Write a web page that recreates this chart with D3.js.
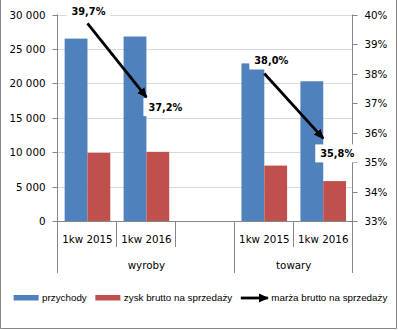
<!DOCTYPE html>
<html>
<head>
<meta charset="utf-8">
<script src="https://cdn.jsdelivr.net/npm/d3@7"></script>
<style>
  html, body { margin: 0; padding: 0; background: #fff; }
  svg { display: block; }
  .tick text { font-family: 'DejaVu Sans', sans-serif; font-size: 10.3px; fill: #000; }
  .cat-label { font-family: 'DejaVu Sans', sans-serif; font-size: 10.3px; fill: #000; }
  .leg text { font-family: 'Liberation Sans', Arial, sans-serif; font-size: 9.8px; fill: #000; }
  .val-label { font-family: 'DejaVu Sans', sans-serif; font-size: 9.8px; font-weight: bold; fill: #000; }
</style>
</head>
<body>
<svg id="chart" width="398" height="330"></svg>
<script>
// data
const groups = ['wyroby', 'wyroby', 'wyroby', 'towary', 'towary'];
const periods = ['1kw 2015', '1kw 2016', '', '1kw 2015', '1kw 2016'];
const przychody = [26500, 26800, null, 22900, 20300];
const zysk = [9900, 10050, null, 8050, 5800];
const marza = [39.7, 37.2, null, 38.0, 35.8];
const leftTicks = [0, 5000, 10000, 15000, 20000, 25000, 30000];
const rightTicks = [33, 34, 35, 36, 37, 38, 39, 40];
const seriesNames = ['przychody', 'zysk brutto na sprzedaży', 'marża brutto na sprzedaży'];

// label placement (offset of label centre from its point), hand tuned
const labelOffsets = [[1, -12], [19, 10], [7, -13], [14, 15]];

const c = {
  width: 398,
  height: 330,
  left: 58,
  right: 352.7,
  top: 14.5,
  bottom: 221,
  colors: ['#4F81BD', '#C0504D', '#000'],
  grid: '#D9D9D9',
  axis: '#868686',
};

const svg = d3.select('#chart');

// outer frame (top edge is cut off)
svg.append('path')
  .attr('d', `M0.5,-1V${c.height - 1.5}H${c.width - 1.5}V-1`)
  .attr('fill', 'none')
  .attr('stroke', c.axis)
  .attr('stroke-width', 1);

const idx = d3.range(periods.length);
const x0 = d3.scaleBand(idx, [c.left, c.right]);
const bw = x0.bandwidth();
const x1 = d3.scaleBand([0, 1], [bw * 0.113, bw * 0.887]);

const yL = d3.scaleLinear([0, 30000], [c.bottom, c.top]);
const yR = d3.scaleLinear([33, 40], [c.bottom, c.top]);

const fmtNum = (d) => d3.format(',')(d).replace(/,/g, ' ');
const fmtPct = (d) => d3.format('.1f')(d).replace('.', ',') + '%';

// gridlines
svg.append('g')
  .selectAll('line')
  .data(leftTicks.slice(1))
  .join('line')
  .attr('x1', c.left)
  .attr('x2', c.right)
  .attr('y1', (d) => Math.round(yL(d)) + 0.5)
  .attr('y2', (d) => Math.round(yL(d)) + 0.5)
  .attr('stroke', c.grid);

// bars
const barData = [];
idx.forEach((i) => {
  [przychody, zysk].forEach((s, k) => {
    if (s[i] != null) barData.push({ i, k, v: s[i] });
  });
});

svg.append('g')
  .selectAll('rect')
  .data(barData)
  .join('rect')
  .attr('x', (d) => x0(d.i) + x1(d.k))
  .attr('width', x1.bandwidth())
  .attr('y', (d) => yL(d.v))
  .attr('height', (d) => yL(0) - yL(d.v))
  .attr('fill', (d) => c.colors[d.k]);

// left axis
const axL = svg.append('g')
  .attr('transform', `translate(${c.left - 0.5},0)`)
  .call(d3.axisLeft(yL).tickValues(leftTicks).tickFormat(fmtNum).tickSize(5).tickPadding(7).tickSizeOuter(0));
axL.select('.domain').remove();
axL.selectAll('.tick line').attr('stroke', c.axis);
axL.selectAll('.tick').attr('transform', (d) => `translate(0,${Math.round(yL(d)) + 0.5})`);
axL.append('line')
  .attr('x1', 0).attr('x2', 0)
  .attr('y1', c.top).attr('y2', c.bottom)
  .attr('stroke', c.axis);

// right axis
const axR = svg.append('g')
  .attr('transform', `translate(${Math.round(c.right) - 0.5},0)`)
  .call(d3.axisRight(yR).tickValues(rightTicks).tickFormat((d) => d + '%').tickSize(5).tickPadding(7).tickSizeOuter(0));
axR.select('.domain').remove();
axR.selectAll('.tick line').attr('stroke', c.axis);
axR.selectAll('.tick').attr('transform', (d) => `translate(0,${Math.round(yR(d)) + 0.5})`);
axR.append('line')
  .attr('x1', 0).attr('x2', 0)
  .attr('y1', c.top).attr('y2', c.bottom)
  .attr('stroke', c.axis);

// category axis
const base = Math.round(yL(0)) + 0.5;
svg.append('line')
  .attr('x1', c.left - 5).attr('x2', c.right)
  .attr('y1', base).attr('y2', base)
  .attr('stroke', c.axis);

const bounds = idx.map((i) => x0(i)).concat([c.right]);
svg.append('g')
  .selectAll('line')
  .data(bounds)
  .join('line')
  .attr('x1', (d) => Math.round(d) - 0.5)
  .attr('x2', (d) => Math.round(d) - 0.5)
  .attr('y1', base)
  .attr('y2', (d, j) => (j === 0 || j === bounds.length - 1 || groups[j] !== groups[j - 1] ? 273 : 247))
  .attr('stroke', c.axis);

svg.append('g')
  .selectAll('text')
  .data(idx.filter((i) => periods[i]))
  .join('text')
  .classed('cat-label', true)
  .attr('x', (i) => x0(i) + bw / 2)
  .attr('y', 243)
  .attr('text-anchor', 'middle')
  .text((i) => periods[i]);

const groupSpans = d3.groups(idx, (i) => groups[i]);
svg.append('g')
  .selectAll('text')
  .data(groupSpans)
  .join('text')
  .classed('cat-label', true)
  .attr('x', ([, is]) => (x0(is[0]) + x0(is[is.length - 1]) + bw) / 2)
  .attr('y', 269)
  .attr('text-anchor', 'middle')
  .text(([g]) => g);

// arrow marker
const defs = svg.append('defs');
defs.append('marker')
  .attr('id', 'arrow')
  .attr('markerUnits', 'userSpaceOnUse')
  .attr('viewBox', '0 0 10 10')
  .attr('refX', 9)
  .attr('refY', 5)
  .attr('markerWidth', 10)
  .attr('markerHeight', 10)
  .attr('orient', 'auto')
  .append('path')
  .attr('d', 'M0,0.5L10,5L0,9.5Z')
  .attr('fill', '#000');

// margin line: split into segments at gaps
const segs = [];
let cur = [];
idx.forEach((i) => {
  if (marza[i] == null) {
    if (cur.length) segs.push(cur);
    cur = [];
  } else cur.push(i);
});
if (cur.length) segs.push(cur);

const line = d3.line()
  .x((i) => x0(i) + bw / 2)
  .y((i) => yR(marza[i]));

svg.append('g')
  .selectAll('path')
  .data(segs)
  .join('path')
  .attr('d', line)
  .attr('fill', 'none')
  .attr('stroke', '#000')
  .attr('stroke-width', 2.8)
  .attr('marker-end', 'url(#arrow)');

// value labels with white boxes
const pts = idx.filter((i) => marza[i] != null);
const labs = svg.append('g')
  .selectAll('g')
  .data(pts)
  .join('g')
  .attr('transform', (i, j) => `translate(${x0(i) + bw / 2 + labelOffsets[j][0]},${yR(marza[i]) + labelOffsets[j][1]})`);

labs.append('text')
  .classed('val-label', true)
  .attr('text-anchor', 'middle')
  .attr('dy', '0.36em')
  .text((i) => fmtPct(marza[i]));

labs.each(function () {
  const g = d3.select(this);
  const w = g.select('text').node().getComputedTextLength();
  g.insert('rect', 'text')
    .attr('x', -w / 2 - 5)
    .attr('y', -9)
    .attr('width', w + 10)
    .attr('height', 18)
    .attr('fill', '#fff');
});

// legend
const leg = svg.append('g').classed('leg', true);
const items = leg.selectAll('g')
  .data(seriesNames)
  .join('g');

items.each(function (name, k) {
  const g = d3.select(this);
  if (k < 2) {
    g.append('rect')
      .attr('x', 0).attr('y', -3)
      .attr('width', 25).attr('height', 5.5)
      .attr('fill', c.colors[k]);
  } else {
    g.append('line')
      .attr('x1', 0).attr('x2', 27)
      .attr('y1', 0).attr('y2', 0)
      .attr('stroke', '#000')
      .attr('stroke-width', 2.8)
      .attr('marker-end', 'url(#arrow)');
  }
  g.append('text')
    .attr('x', k < 2 ? 28.5 : 30.5)
    .attr('dy', '0.35em')
    .text(name);
});

let lx = 0;
const widths = [];
items.each(function () {
  widths.push(this.getBBox().width);
});
const gap = 8.5;
const total = d3.sum(widths) + gap * (widths.length - 1);
lx = 200.5 - total / 2;
items.attr('transform', (d, k) => {
  const t = `translate(${lx},298)`;
  lx += widths[k] + gap;
  return t;
});
</script>
</body>
</html>
